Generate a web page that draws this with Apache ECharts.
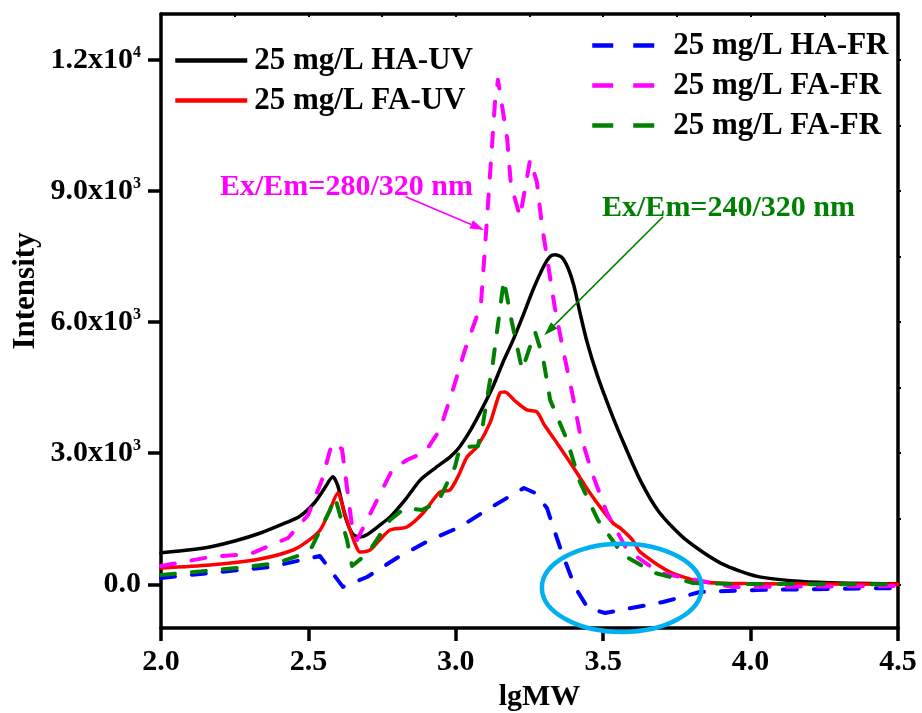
<!DOCTYPE html>
<html>
<head>
<meta charset="utf-8">
<title>Intensity vs lgMW</title>
<script src="https://cdn.jsdelivr.net/npm/echarts@6/dist/echarts.min.js"></script>
<style>
  html, body { margin: 0; padding: 0; background: #ffffff; }
  #main { width: 922px; height: 713px; }
</style>
</head>
<body>
<div id="main"></div>
<script>
// ---- data: [lgMW, intensity] ----
const haUV = [
  [2.0, 720], [2.1, 790], [2.17, 860], [2.25, 990], [2.34, 1180], [2.42, 1400],
  [2.47, 1550], [2.52, 1860], [2.555, 2200], [2.583, 2460], [2.60, 2250],
  [2.625, 1550], [2.65, 1150], [2.675, 1080], [2.70, 1140], [2.74, 1340],
  [2.78, 1560], [2.83, 1950], [2.88, 2390], [2.93, 2660], [2.98, 2910],
  [3.01, 3120], [3.05, 3530], [3.08, 3900], [3.125, 4510], [3.16, 5080],
  [3.195, 5600], [3.23, 6180], [3.262, 6740], [3.30, 7300], [3.32, 7500],
  [3.337, 7540], [3.36, 7480], [3.38, 7250], [3.40, 6850], [3.42, 6250],
  [3.445, 5550], [3.48, 4780], [3.52, 4050], [3.56, 3380], [3.625, 2390],
  [3.69, 1650], [3.78, 1020], [3.90, 480], [4.03, 170], [4.23, 45], [4.5, 10]
];
const faUV = [
  [2.0, 373], [2.166, 442], [2.336, 579], [2.448, 785], [2.50, 1000],
  [2.54, 1243], [2.57, 1650], [2.60, 2090], [2.62, 1700], [2.641, 1243],
  [2.66, 900], [2.675, 739], [2.709, 785], [2.74, 1000], [2.777, 1243],
  [2.834, 1312], [2.889, 1632], [2.946, 2113], [2.98, 2158], [3.01, 2500],
  [3.038, 2914], [3.072, 3145], [3.116, 3694], [3.15, 4380], [3.167, 4403],
  [3.20, 4200], [3.241, 3990], [3.275, 3945], [3.30, 3650], [3.343, 3234],
  [3.398, 2685], [3.455, 2090], [3.533, 1403], [3.557, 1290], [3.601, 1000],
  [3.625, 740], [3.727, 282], [3.839, 53], [4.0, 15], [4.5, 0]
];
const haFR = [
  [2.0, 144], [2.166, 259], [2.37, 396], [2.492, 579], [2.539, 648],
  [2.617, -60], [2.699, 167], [2.80, 602], [2.912, 1014], [3.014, 1312],
  [3.116, 1747], [3.231, 2204], [3.269, 2090], [3.309, 1747], [3.353, 854],
  [3.404, -62], [3.448, -543], [3.506, -657], [3.703, -405], [3.828, -176],
  [4.022, -130], [4.5, -85]
];
const faFR280 = [
  [2.0, 419], [2.166, 625], [2.302, 694], [2.431, 1060], [2.499, 1587],
  [2.546, 2388], [2.58, 3234], [2.614, 3097], [2.651, 1174], [2.665, 1015],
  [2.784, 2617], [2.834, 2845], [2.896, 3028], [2.946, 3532], [2.99, 4448],
  [3.031, 5363], [3.085, 6393], [3.099, 7698], [3.133, 11040], [3.143, 11544],
  [3.174, 10216], [3.187, 9140], [3.218, 8407], [3.252, 9712], [3.275, 9208],
  [3.292, 8224], [3.336, 6324], [3.364, 5363], [3.394, 4402], [3.421, 3464],
  [3.462, 2548], [3.513, 1632], [3.581, 785], [3.693, 259], [3.94, -62],
  [4.5, -40]
];
const faFR240 = [
  [2.0, 213], [2.258, 373], [2.393, 488], [2.472, 670], [2.512, 854],
  [2.573, 1700], [2.59, 2000], [2.631, 1014], [2.648, 419], [2.702, 716],
  [2.777, 1472], [2.828, 1747], [2.885, 1700], [2.94, 1885], [2.997, 2686],
  [3.014, 3136], [3.075, 3159], [3.092, 3662], [3.126, 5082], [3.163, 6965],
  [3.19, 6004], [3.225, 4906], [3.269, 5775], [3.296, 5180], [3.32, 4220],
  [3.377, 3304], [3.421, 2342], [3.482, 1472], [3.567, 670], [3.676, 259],
  [3.805, 30], [3.94, 7], [4.5, 0]
];

// ---- series names, legend text, colours ----
const seriesNames = ['HA-UV', 'FA-UV', 'HA-FR', 'FA-FR 280/320', 'FA-FR 240/320'];
const legendLabels = ['25 mg/L HA-UV', '25 mg/L FA-UV', '25 mg/L HA-FR', '25 mg/L FA-FR', '25 mg/L FA-FR'];
const seriesColors = ['#000000', '#ff0000', '#0000ff', '#ff00ff', '#008000'];

// ---- axis ticks ----
const xTicks = [2.0, 2.5, 3.0, 3.5, 4.0, 4.5];
const yTicks = [0, 3000, 6000, 9000, 12000];
const yTickLabels = [['0.0', ''], ['3.0x10', '3'], ['6.0x10', '3'], ['9.0x10', '3'], ['1.2x10', '4']];
const yMinorTicks = [0, 1500, 3000, 4500, 6000, 7500, 9000, 10500, 12000];

// ---- annotation texts ----
const noteMagenta = 'Ex/Em=280/320 nm';
const noteGreen = 'Ex/Em=240/320 nm';

const FONT = '"Liberation Serif", "Times New Roman", Times, serif';
const chart = echarts.init(document.getElementById('main'));

function lineSeries(i, data, dashed) {
  return {
    name: seriesNames[i],
    type: 'line',
    data: data,
    symbol: 'none',
    showSymbol: false,
    smooth: dashed ? false : 0.25,
    xAxisIndex: 0,
    yAxisIndex: 0,
    lineStyle: {
      color: seriesColors[i],
      width: dashed ? 4 : 3.5,
      type: dashed ? [14, 17] : 'solid',
      cap: 'round',
      join: 'round'
    },
    itemStyle: { color: seriesColors[i] },
    emphasis: { disabled: true },
    z: 2 + i
  };
}

const axisLineStyle = { color: '#000', width: 3.5 };
const labelFont = { fontSize: 30, fontWeight: 'bold', fontFamily: FONT, color: '#000' };

const option = {
  animation: false,
  backgroundColor: '#ffffff',
  grid: { left: 161, right: 24, top: 14, bottom: 85, containLabel: false, outerBoundsMode: 'none' },
  xAxis: [
    {
      type: 'value', min: 2, max: 4.5, interval: 0.5, position: 'bottom',
      axisLine: { show: true, onZero: false, lineStyle: axisLineStyle },
      axisTick: { show: true, inside: false, length: 13, lineStyle: axisLineStyle },
      axisLabel: Object.assign({ margin: 19, formatter: v => v.toFixed(1) }, labelFont),
      splitLine: { show: false },
      name: 'lgMW', nameLocation: 'middle', nameGap: 54,
      nameTextStyle: { fontSize: 30, fontWeight: 'bold', fontFamily: FONT, color: '#000', padding: [0, 0, 0, 20] }
    },
    {
      type: 'value', min: 2, max: 4.5, interval: 0.25, position: 'top',
      axisLine: { show: true, onZero: false, lineStyle: axisLineStyle },
      axisTick: { show: true, inside: true, length: 3, lineStyle: { color: '#000', width: 2 } },
      axisLabel: { show: false },
      splitLine: { show: false }
    }
  ],
  yAxis: [
    {
      type: 'value', min: -1000, max: 13050, position: 'left',
      axisLine: { show: true, onZero: false, lineStyle: axisLineStyle },
      axisTick: { show: true, inside: false, length: 13, customValues: yTicks, lineStyle: axisLineStyle },
      axisLabel: {
        margin: 20,
        customValues: yTicks,
        formatter: v => {
          const i = yTicks.indexOf(v);
          if (i < 0) return '';
          const [m, e] = yTickLabels[i];
          return e ? '{m|' + m + '}{e|' + e + '}' : '{m|' + m + '}';
        },
        rich: {
          m: { fontSize: 30, fontWeight: 'bold', fontFamily: FONT, color: '#000', lineHeight: 30 },
          e: { fontSize: 16, fontWeight: 'bold', fontFamily: FONT, color: '#000', lineHeight: 16, verticalAlign: 'top' }
        }
      },
      splitLine: { show: false }
    },
    {
      type: 'value', min: -1000, max: 13050, position: 'right',
      axisLine: { show: true, onZero: false, lineStyle: axisLineStyle },
      axisTick: { show: true, inside: false, length: 3, customValues: yMinorTicks, lineStyle: { color: '#000', width: 2 } },
      axisLabel: { show: false },
      splitLine: { show: false }
    }
  ],
  legend: [
    {
      orient: 'vertical', left: 173, top: 45, padding: 0,
      itemWidth: 72, itemHeight: 14, itemGap: 9,
      data: [seriesNames[0], seriesNames[1]],
      formatter: n => legendLabels[seriesNames.indexOf(n)],
      itemStyle: { opacity: 0, borderWidth: 0 },
      lineStyle: { width: 4.5, cap: 'butt' },
      textStyle: { fontSize: 31, fontWeight: 'bold', fontFamily: FONT, color: '#000', lineHeight: 31, padding: [0, 0, 0, 2] },
      selectedMode: false
    },
    {
      orient: 'vertical', left: 590, top: 30, padding: 0,
      itemWidth: 63, itemHeight: 14, itemGap: 9,
      data: [seriesNames[2], seriesNames[3], seriesNames[4]],
      formatter: n => legendLabels[seriesNames.indexOf(n)],
      itemStyle: { opacity: 0, borderWidth: 0 },
      lineStyle: { width: 4.5, type: [21, 20], cap: 'butt' },
      textStyle: { fontSize: 31, fontWeight: 'bold', fontFamily: FONT, color: '#000', lineHeight: 31, padding: [0, 0, 0, 13] },
      selectedMode: false
    }
  ],
  series: [
    lineSeries(0, haUV, false),
    lineSeries(1, faUV, false),
    lineSeries(2, haFR, true),
    lineSeries(3, faFR280, true),
    lineSeries(4, faFR240, true)
  ]
};

chart.setOption(option);

// ---- annotations placed in data space ----
function px(p) { return chart.convertToPixel({ gridIndex: 0 }, p); }

function arrow(from, to, color, id) {
  const a = px(from), b = px(to);
  const dx = b[0] - a[0], dy = b[1] - a[1];
  const len = Math.sqrt(dx * dx + dy * dy);
  const ux = dx / len, uy = dy / len;
  const headLen = 14, headHalf = 4.5;
  const bx = b[0] - ux * headLen, by = b[1] - uy * headLen;
  return [
    { type: 'line', id: id + '-shaft', z: 20,
      shape: { x1: a[0], y1: a[1], x2: bx, y2: by },
      style: { stroke: color, lineWidth: 1.6 } },
    { type: 'polygon', id: id + '-head', z: 20,
      shape: { points: [[b[0], b[1]], [bx - uy * headHalf, by + ux * headHalf], [bx + uy * headHalf, by - ux * headHalf]] },
      style: { fill: color } }
  ];
}

const magentaTextPos = px([2.2, 9094]);
const greenTextPos = px([3.496, 8614]);
const ellC = px([3.563, -80]);
const ellX = px([3.563 + 0.271, -80]);
const ellY = px([3.563, -80 + 1010]);

chart.setOption({
  graphic: [
    { type: 'text', id: 'ylabel', x: 26, y: 291, rotation: Math.PI / 2, z: 20,
      style: { text: 'Intensity', font: 'bold 31px ' + FONT, fill: '#000', align: 'center', verticalAlign: 'middle' } },
    { type: 'text', id: 'note-m', x: magentaTextPos[0], y: magentaTextPos[1], z: 20,
      style: { text: noteMagenta, font: 'bold 30px ' + FONT, fill: '#ff00ff', align: 'left', verticalAlign: 'middle' } },
    { type: 'text', id: 'note-g', x: greenTextPos[0], y: greenTextPos[1], z: 20,
      style: { text: noteGreen, font: 'bold 30px ' + FONT, fill: '#008000', align: 'left', verticalAlign: 'middle' } },
    ...arrow([2.83, 8870], [3.096, 8110], '#ff00ff', 'arrow-m'),
    ...arrow([3.703, 8410], [3.30, 5700], '#008000', 'arrow-g'),
    { type: 'ellipse', id: 'ring', z: 25,
      shape: { cx: ellC[0], cy: ellC[1], rx: Math.abs(ellX[0] - ellC[0]), ry: Math.abs(ellY[1] - ellC[1]) },
      style: { fill: 'none', stroke: '#00b0f0', lineWidth: 4.5 } }
  ]
});
</script>
</body>
</html>
